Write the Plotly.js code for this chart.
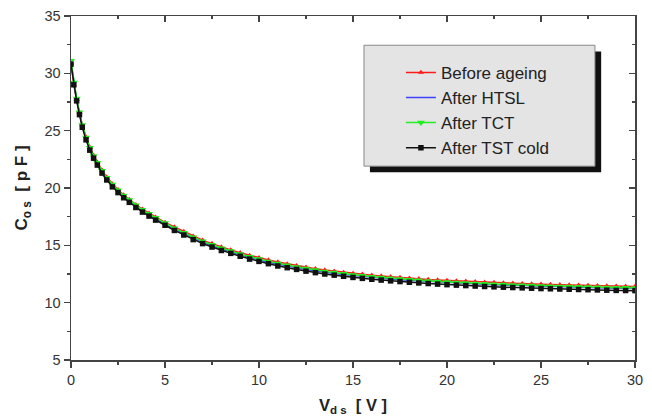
<!DOCTYPE html>
<html><head><meta charset="utf-8">
<script src="https://cdn.plot.ly/plotly-3.0.1.min.js"></script>
<style>html,body{margin:0;padding:0;background:#fff}#chart{width:652px;height:420px}</style>
</head><body><div id="chart"></div>
<script>
const vds = [0,0.15,0.3,0.45,0.6,0.8,1.0,1.2,1.4,1.65,1.9,2.2,2.5,2.8,3.1,3.45,3.8,4.15,4.5,
  5,5.5,6,6.5,7,7.5,8,8.5,9,9.5,10,10.5,11,11.5,12,12.5,13,13.5,14,14.5,15,15.5,16,16.5,17,17.5,
  18,18.5,19,19.5,20,20.5,21,21.5,22,22.5,23,23.5,24,24.5,25,25.5,26,26.5,27,27.5,28,28.5,29,29.5,30];
const beforeAgeing = [30.9,29.0,27.7,26.6,25.5,24.45,23.55,22.85,22.25,21.55,20.95,20.35,19.85,19.4,19.0,18.55,18.15,17.8,17.45,
  17.0,16.6,16.2,15.8,15.45,15.15,14.85,14.6,14.35,14.12,13.92,13.72,13.54,13.38,13.23,13.09,12.96,12.84,12.74,12.64,12.55,
  12.47,12.39,12.32,12.25,12.19,12.13,12.08,12.03,11.98,11.94,11.9,11.86,11.82,11.78,11.75,11.72,11.69,11.66,11.63,11.6,
  11.58,11.56,11.54,11.52,11.5,11.48,11.46,11.44,11.43,11.42];
const afterHTSL = [30.95,29.1,27.7,26.5,25.4,24.3,23.4,22.7,22.1,21.4,20.8,20.2,19.7,19.25,18.85,18.4,18.0,17.65,17.3,
  16.85,16.42,16.02,15.62,15.27,14.97,14.67,14.42,14.17,13.93,13.73,13.53,13.35,13.19,13.04,12.9,12.77,12.65,12.55,12.45,12.36,
  12.28,12.2,12.13,12.06,12.0,11.95,11.9,11.85,11.8,11.76,11.72,11.68,11.64,11.6,11.57,11.54,11.51,11.48,11.45,11.42,
  11.4,11.38,11.36,11.34,11.32,11.3,11.28,11.26,11.25,11.24];
const afterTCT = [31.1,29.2,27.8,26.6,25.5,24.4,23.5,22.8,22.2,21.5,20.9,20.3,19.8,19.35,18.95,18.5,18.1,17.75,17.4,
  16.95,16.5,16.1,15.7,15.35,15.05,14.75,14.5,14.25,14.0,13.8,13.6,13.42,13.26,13.11,12.97,12.84,12.72,12.62,12.52,12.42,
  12.34,12.26,12.19,12.12,12.06,12.0,11.95,11.9,11.85,11.8,11.76,11.72,11.68,11.64,11.61,11.58,11.55,11.52,11.49,11.46,
  11.44,11.42,11.4,11.38,11.36,11.34,11.32,11.3,11.29,11.28];
const afterTSTcold = [30.8,29.0,27.6,26.4,25.3,24.2,23.3,22.6,22.0,21.3,20.7,20.1,19.6,19.15,18.75,18.3,17.9,17.55,17.2,
  16.75,16.3,15.9,15.5,15.15,14.85,14.55,14.3,14.05,13.8,13.6,13.4,13.2,13.05,12.9,12.75,12.62,12.5,12.4,12.3,12.2,
  12.12,12.04,11.97,11.9,11.84,11.78,11.72,11.67,11.62,11.57,11.53,11.49,11.45,11.41,11.38,11.35,11.32,11.29,11.26,11.23,
  11.21,11.19,11.17,11.15,11.13,11.11,11.09,11.07,11.06,11.05];
const seriesNames = ['Before ageing','After HTSL','After TCT','After TST cold'];
const xTicks = [0,5,10,15,20,25,30];
const yTicks = [5,10,15,20,25,30,35];

const FONT = 'Liberation Sans, Arial, sans-serif';
const AX = '#444';

const traces = [
  {x: vds, y: beforeAgeing, name: seriesNames[0], mode: 'lines+markers',
   line: {color: '#ff1a1a', width: 1.5}, marker: {symbol: 'triangle-up', size: 5.5, color: '#ff1a1a'}},
  {x: vds, y: afterHTSL, name: seriesNames[1], mode: 'lines',
   line: {color: '#4040ff', width: 1.5}},
  {x: vds, y: afterTCT, name: seriesNames[2], mode: 'lines+markers',
   line: {color: '#22ee22', width: 1.5}, marker: {symbol: 'triangle-down', size: 7, color: '#22ee22'}},
  {x: vds, y: afterTSTcold, name: seriesNames[3], mode: 'lines+markers',
   line: {color: '#111111', width: 1.5}, marker: {symbol: 'square', size: 5.5, color: '#111111'}},
  {x: [null], y: [null], xaxis: 'x2', yaxis: 'y2', mode: 'lines', showlegend: false, hoverinfo: 'skip'}
];

const baseAxis = {
  showgrid: false, zeroline: false, showline: true, linecolor: AX, linewidth: 1.5,
  tickcolor: AX, tickwidth: 1.5, ticklen: 6, ticks: 'outside',
  tickfont: {family: FONT, size: 14.5, color: '#333'}
};

const layout = {
  width: 652, height: 420,
  margin: {l: 71, r: 17, t: 16, b: 60},
  paper_bgcolor: '#fff', plot_bgcolor: '#fff',
  font: {family: FONT, color: '#222'},
  showlegend: true,
  xaxis: Object.assign({}, baseAxis, {
    range: [0, 30], tickvals: xTicks, ticktext: xTicks.map(String), mirror: true,
    minor: {dtick: 2.5, ticklen: 3, ticks: 'outside', tickcolor: AX, tickwidth: 1.5, showgrid: false},
    title: {text: 'V<sub>d s</sub>  [ V ]', font: {family: FONT, size: 16.5, weight: 700, color: '#222'}, standoff: 12}
  }),
  yaxis: Object.assign({}, baseAxis, {
    range: [5, 35], tickvals: yTicks, ticktext: yTicks.map(String), mirror: true,
    minor: {dtick: 2.5, ticklen: 3, ticks: 'outside', tickcolor: AX, tickwidth: 1.5, showgrid: false},
    title: {text: 'C<sub>o s</sub>  [ p F ]', font: {family: FONT, size: 17, weight: 700, color: '#222'}, standoff: 12}
  }),
  xaxis2: {overlaying: 'x', side: 'top', range: [0, 30], tickvals: xTicks, ticks: 'inside', ticklen: 6,
    tickwidth: 1.5, tickcolor: AX, showticklabels: false, showgrid: false, zeroline: false, showline: false,
    minor: {dtick: 2.5, ticklen: 3, ticks: 'inside', tickcolor: AX, tickwidth: 1.5, showgrid: false}},
  yaxis2: {overlaying: 'y', side: 'right', range: [5, 35], tickvals: yTicks, ticks: 'inside', ticklen: 6,
    tickwidth: 1.5, tickcolor: AX, showticklabels: false, showgrid: false, zeroline: false, showline: false,
    minor: {dtick: 2.5, ticklen: 3, ticks: 'inside', tickcolor: AX, tickwidth: 1.5, showgrid: false}},
  legend: {x: 0.585, y: 0.887, xanchor: 'left', yanchor: 'top', bgcolor: 'rgba(0,0,0,0)', borderwidth: 0,
    font: {family: FONT, size: 17, color: '#222'}, tracegroupgap: 0},
  shapes: [
    {type: 'rect', xref: 'paper', yref: 'paper', x0: 0.530, x1: 0.940, y0: 0.546, y1: 0.897,
     fillcolor: '#111', line: {width: 0}, layer: 'above'},
    {type: 'rect', xref: 'paper', yref: 'paper', x0: 0.5195, x1: 0.929, y0: 0.5635, y1: 0.915,
     fillcolor: '#e4e4e4', line: {color: '#888', width: 1}, layer: 'above'}
  ]
};

Plotly.newPlot('chart', traces, layout, {displayModeBar: false, staticPlot: true});
</script>
</body></html>
